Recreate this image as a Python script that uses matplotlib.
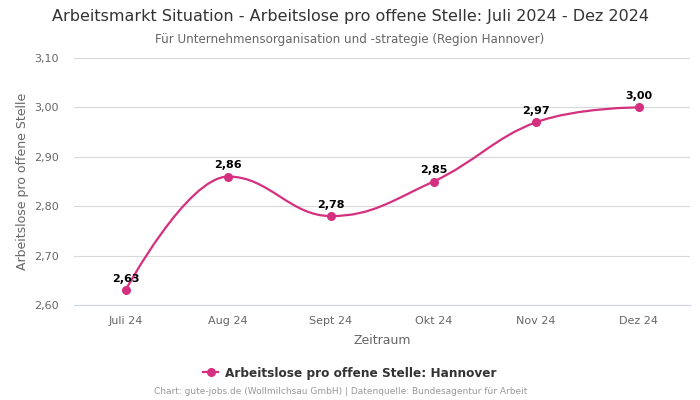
import matplotlib
matplotlib.use("Agg")
import matplotlib.pyplot as plt
from matplotlib.path import Path
from matplotlib.patches import PathPatch
from matplotlib.lines import Line2D

months = ["Juli 24", "Aug 24", "Sept 24", "Okt 24", "Nov 24", "Dez 24"]
values = [2.63, 2.86, 2.78, 2.85, 2.97, 3.00]
y_ticks = [2.60, 2.70, 2.80, 2.90, 3.00, 3.10]

line_color = "#d4307f"


def spline_path(xs, ys, smoothing=1.5):
    """bezier path through the points, same idea as the highcharts spline"""
    denom = smoothing + 1
    n = len(xs)
    right_cont = [None] * n
    left_cont = [None] * n
    for i in range(1, n - 1):
        x, y = xs[i], ys[i]
        lx, ly = xs[i - 1], ys[i - 1]
        nx, ny = xs[i + 1], ys[i + 1]
        lcx = (smoothing * x + lx) / denom
        lcy = (smoothing * y + ly) / denom
        rcx = (smoothing * x + nx) / denom
        rcy = (smoothing * y + ny) / denom
        corr = (rcy - lcy) * (rcx - x) / (rcx - lcx) + y - rcy
        lcy += corr
        rcy += corr
        if lcy > ly and lcy > y:
            lcy = max(ly, y)
            rcy = 2 * y - lcy
        elif lcy < ly and lcy < y:
            lcy = min(ly, y)
            rcy = 2 * y - lcy
        if rcy > ny and rcy > y:
            rcy = max(ny, y)
            lcy = 2 * y - rcy
        elif rcy < ny and rcy < y:
            rcy = min(ny, y)
            lcy = 2 * y - rcy
        left_cont[i] = (lcx, lcy)
        right_cont[i] = (rcx, rcy)
    verts = [(xs[0], ys[0])]
    codes = [Path.MOVETO]
    for i in range(1, n):
        c1 = right_cont[i - 1] or (xs[i - 1], ys[i - 1])
        c2 = left_cont[i] or (xs[i], ys[i])
        verts += [c1, c2, (xs[i], ys[i])]
        codes += [Path.CURVE4] * 3
    return Path(verts, codes)


fig = plt.figure(figsize=(7, 4), dpi=100)
ax = fig.add_axes([0.106, 0.2375, 0.88, 0.6175])

x = list(range(len(months)))
ax.add_patch(PathPatch(spline_path(x, values), facecolor="none",
                       edgecolor=line_color, lw=1.6, zorder=3))
ax.plot(x, values, "o", color=line_color, ms=5.5, zorder=4)

for xi, v in zip(x, values):
    ax.annotate(f"{v:.2f}".replace(".", ","), (xi, v), xytext=(0, 4.5),
                textcoords="offset points", ha="center", va="bottom",
                fontsize=8, fontweight="bold", color="black", zorder=5)

ax.set_xlim(-0.5, len(months) - 0.5)
ax.set_ylim(2.60, 3.10)
ax.set_xticks(x)
ax.set_xticklabels(months)
ax.set_yticks(y_ticks)
ax.set_yticklabels([f"{t:.2f}".replace(".", ",") for t in y_ticks])
ax.tick_params(axis="both", length=0, labelsize=8, colors="#666666", pad=8)
ax.tick_params(axis="y", pad=11)
ax.grid(axis="y", color="#d9d9d9", lw=0.8)
ax.set_axisbelow(True)
for s in ["top", "right", "left"]:
    ax.spines[s].set_visible(False)
ax.spines["bottom"].set_color("#ccd6eb")

ax.set_xlabel("Zeitraum", fontsize=9, color="#666666", labelpad=6)
ax.set_ylabel("Arbeitslose pro offene Stelle", fontsize=9, color="#666666", labelpad=3.5)

fig.text(0.5, 0.958, "Arbeitsmarkt Situation - Arbeitslose pro offene Stelle: Juli 2024 - Dez 2024",
         ha="center", va="center", fontsize=11.5, color="#333333")
fig.text(0.5, 0.902, "Für Unternehmensorganisation und -strategie (Region Hannover)",
         ha="center", va="center", fontsize=8.6, color="#666666")

handle = Line2D([], [], color=line_color, marker="o", ms=5.5, lw=1.6)
fig.legend([handle], ["Arbeitslose pro offene Stelle: Hannover"], loc="center",
           bbox_to_anchor=(0.5, 0.067), frameon=False, handlelength=1.2,
           handletextpad=0.6, prop={"weight": "bold", "size": 8.7}, labelcolor="#333333")
fig.text(0.486, 0.02, "Chart: gute-jobs.de (Wollmilchsau GmbH) | Datenquelle: Bundesagentur für Arbeit",
         ha="center", va="center", fontsize=6.5, color="#999999")

fig.savefig("out.png", dpi=100)
